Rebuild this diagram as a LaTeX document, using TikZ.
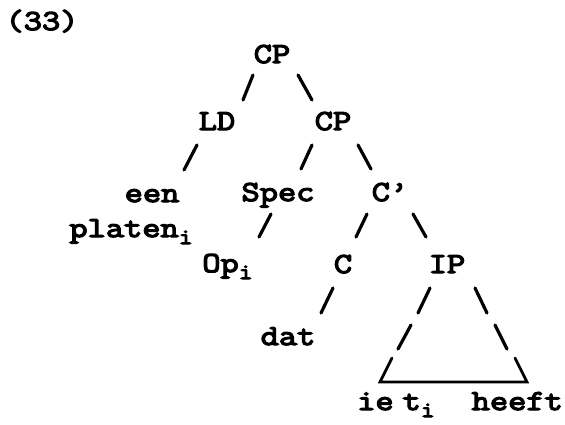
\documentclass[tikz,border=0pt]{standalone}
\usepackage{fontspec}
\newfontfamily\lmm{Latin Modern Mono}[FakeStretch=1.22,FakeBold=4.5]
\newcommand{\sbi}{\raisebox{-7pt}{\fontsize{22}{22}\selectfont i}}
\tikzset{
  lbl/.style={anchor=base,inner sep=0pt,font=\lmm\fontsize{29}{30}\selectfont},
  sl/.style={line width=3.2pt,line cap=round},
  tri/.style={line width=2.7pt,line cap=round,line join=miter}
}
\begin{document}
\begin{tikzpicture}[x=1pt,y=-1pt]
\useasboundingbox[fill=white] (0,0) rectangle (565,424);
\node[lbl] (ex) at (42,30) {(33)};
\node[lbl] (cp1) at (272,63) {CP};
\node[lbl] (ld) at (217,130) {LD};
\node[lbl] (cp2) at (333,130) {CP};
\node[lbl] (een) at (152,202) {een};
\node[lbl] (platen) at (131,237) {platen\sbi};
\node[lbl] (spec) at (278,201) {Spec};
\node[lbl] (cbar) at (390,201) {C’};
\node[lbl] (op) at (227.5,272) {Op\sbi};
\node[lbl] (c) at (343,273) {C};
\node[lbl] (ip) at (447,273) {IP};
\node[lbl] (dat) at (288,345) {dat};
\node[lbl,anchor=base west] (bot) at (357,410) {ie\kern9pt t\sbi\kern37pt heeft};
% slashes
\draw[sl] ([shift={(-19,12)}]cp1.base) -- ([shift={(26,-30)}]ld.base);
\draw[sl] ([shift={(26,12)}]cp1.base) -- ([shift={(-21,-30)}]cp2.base);
\draw[sl] ([shift={(-20,15)}]ld.base) -- ([shift={(32,-32)}]een.base);
\draw[sl] ([shift={(-21,15)}]cp2.base) -- ([shift={(23,-32)}]spec.base);
\draw[sl] ([shift={(25,15)}]cp2.base) -- ([shift={(-19,-32)}]cbar.base);
\draw[sl] ([shift={(-7,13)}]spec.base) -- ([shift={(31.5,-35)}]op.base);
\draw[sl] ([shift={(-23,13)}]cbar.base) -- ([shift={(13,-36)}]c.base);
\draw[sl] ([shift={(23,13)}]cbar.base) -- ([shift={(-21,-36)}]ip.base);
\draw[sl] ([shift={(-10,15)}]c.base) -- ([shift={(33,-32)}]dat.base);
% triangle
\draw[sl] ([shift={(-17,15)}]ip.base) -- ([shift={(-29,40)}]ip.base);
\draw[sl] ([shift={(-36,52)}]ip.base) -- ([shift={(-49,76)}]ip.base);
\draw[sl] ([shift={(28,15)}]ip.base) -- ([shift={(40,40)}]ip.base);
\draw[sl] ([shift={(48,52)}]ip.base) -- ([shift={(60,76)}]ip.base);
\draw[tri] ([shift={(-55,85)}]ip.base) -- ([shift={(23,-28)}]bot.base west) -- ([shift={(170,-28)}]bot.base west) -- ([shift={(68,85)}]ip.base);
\end{tikzpicture}
\end{document}
